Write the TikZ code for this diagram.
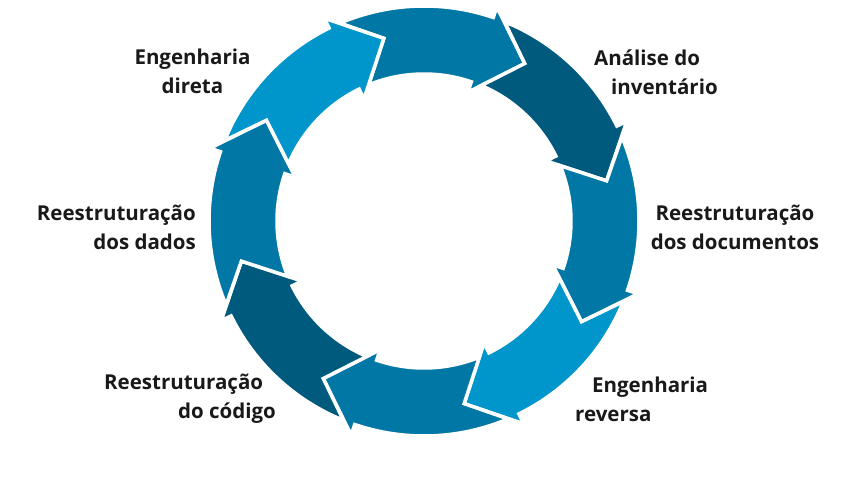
\documentclass[tikz,border=0pt]{standalone}
\usepackage{fontspec}
\setmainfont{Open Sans}
\definecolor{cLight}{HTML}{0096CB}
\definecolor{cMed}{HTML}{0077A4}
\definecolor{cDark}{HTML}{005A7E}
\def\Ro{215}
\def\ri{147}
\def\Rb{226}
\def\rb{136}
\def\Rt{187}
\newcommand{\arrowseg}[2]{%
  \pgfmathsetmacro{\tb}{#1+13.8}%
  \pgfmathsetmacro{\uo}{#1+45+10.6}%
  \pgfmathsetmacro{\ui}{#1+45+9.7}%
  \pgfmathsetmacro{\uu}{#1+45}%
  \filldraw[segstyle, fill=#2]
    (\uo:\Ro) arc[start angle=\uo, end angle=\tb, radius=\Ro pt]
    -- (\tb:\Rb) -- (#1:\Rt) -- (\tb:\rb) -- (\tb:\ri)
    arc[start angle=\tb, end angle=\ui, radius=\ri pt]
    -- (\uu:\Rt) -- cycle;
}
\begin{document}
\begin{tikzpicture}[x=1pt,y=1pt,
  segstyle/.style={draw=white, line width=3.5pt, line join=miter},
  lbl/.style={font=\bfseries\fontsize{20.5}{29}\selectfont, text=black!90, inner sep=0pt}]
\useasboundingbox (0,0) rectangle (849,487);
\begin{scope}[shift={(424,266)}]
  \arrowseg{57.4}{cMed}
  \arrowseg{12.4}{cDark}
  \arrowseg{-32.6}{cMed}
  \arrowseg{-77.6}{cLight}
  \arrowseg{-122.6}{cMed}
  \arrowseg{-167.6}{cDark}
  \arrowseg{147.4}{cMed}
  \arrowseg{102.4}{cLight}
\end{scope}
\node[lbl, align=center] (l1) at (192.5,415.5) {Engenharia\\direta};
\node[lbl, align=left, anchor=west] (l2) at (594,415) {Análise do\\\hspace*{17pt}inventário};
\node[lbl, align=right, anchor=east] (l3) at (196,259.5) {Reestruturação\\dos dados};
\node[lbl, align=center] (l4) at (735,259.5) {Reestruturação\\dos documentos};
\node[lbl, align=left, anchor=west] (l5) at (104,88) {Reestruturação\\\hspace*{74pt}do código};
\node[lbl, align=left, anchor=west] (l6) at (575,88) {\hspace*{17pt}Engenharia\\reversa};
\end{tikzpicture}
\end{document}
